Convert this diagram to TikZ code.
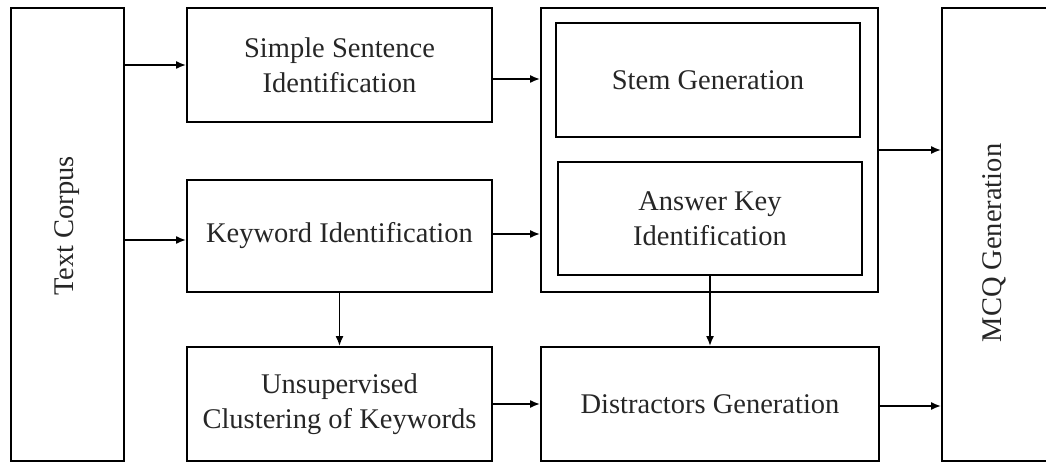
\documentclass[tikz,border=0pt]{standalone}
\usepackage{fontspec}
\setmainfont{Liberation Serif}
\usepackage{tikz}
\usetikzlibrary{calc,arrows.meta}

\tikzset{
  block/.style={draw,line width=1.8pt,rectangle,inner sep=0pt,align=center,
    font=\fontsize{28.5}{35}\selectfont,text=black!85},
  label/.style={rotate=90,font=\fontsize{28.5}{35}\selectfont,text=black!85},
  arr/.style={line width=1.8pt,-{Latex[length=10pt,width=8pt]}}
}

\begin{document}
\begin{tikzpicture}[x=1pt,y=-1pt]
\useasboundingbox (0,0) rectangle (1046,462);

% Input and output
\node[block,minimum width=113pt,minimum height=453pt] (corpus) at (67.5,234.5) {};
\node[label] (corpustext) at (67.5,226) {Text Corpus};
\node[block,minimum width=108pt,minimum height=453pt] (mcq) at (996,234.5) {};
\node[label] (mcqtext) at (994,243) {MCQ Generation};

% First column
\node[block,minimum width=305pt,minimum height=114pt] (simple) at (339.5,65) {Simple Sentence\\Identification};
\node[block,minimum width=305pt,minimum height=112pt] (keyword) at (339.5,236) {Keyword Identification};
\node[block,minimum width=305pt,minimum height=114pt] (unsup) at (339.5,404) {Unsupervised\\Clustering of Keywords};

% Second column
\node[block,minimum width=337pt,minimum height=284pt] (outer) at (709.5,150) {};
\node[block,minimum width=304pt,minimum height=114pt] (stem) at (708,80) {Stem Generation};
\node[block,minimum width=304pt,minimum height=113pt] (answer) at (710,218.5) {Answer Key\\Identification};
\node[block,minimum width=338pt,minimum height=114pt] (distr) at (710,404) {Distractors Generation};

% Connectors
\draw[arr] (corpus.east |- simple.west) -- (simple.west);
\draw[arr] (corpus.east |- 0,240) -- (keyword.west |- 0,240);
\draw[arr] ([yshift=-14pt]simple.east) -- ([yshift=-14pt]simple.east -| outer.west);
\draw[arr] ([yshift=2pt]keyword.east) -- ([yshift=2pt]keyword.east -| outer.west);
\draw[arr] (keyword.south) -- (unsup.north);
\draw[arr] (answer.south) -- (distr.north);
\draw[arr] (unsup.east) -- (distr.west);
\draw[arr] (outer.east) -- (outer.east -| mcq.west);
\draw[arr] ([yshift=-2pt]distr.east) -- ([yshift=-2pt]distr.east -| mcq.west);

\end{tikzpicture}
\end{document}
